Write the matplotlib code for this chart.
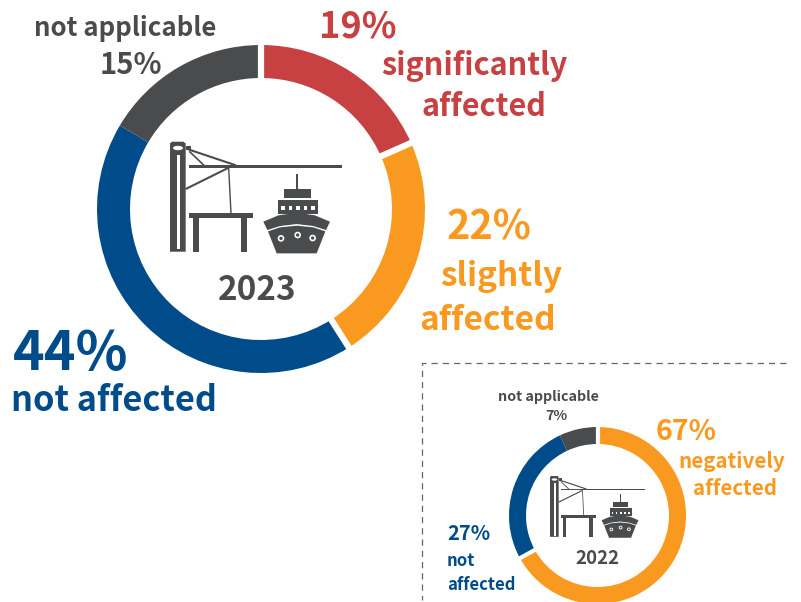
import numpy as np
import matplotlib
matplotlib.use("Agg")
import matplotlib.pyplot as plt
from matplotlib.patches import Polygon, Rectangle, Circle, Ellipse, Wedge

W, H = 801, 602
FONT = "Noto Sans CJK JP"
RED, ORANGE, BLUE, GREY = "#C74042", "#F9991F", "#004C8A", "#4A4B4D"

labels_2023 = ["significantly affected", "slightly affected", "not affected", "not applicable"]
values_2023 = [18.4, 22.6, 42.5, 16.5]
colors_2023 = [RED, ORANGE, BLUE, GREY]
gaps_2023 = [0, 1, 2]

labels_2022 = ["negatively affected", "not affected", "not applicable"]
values_2022 = [67, 26, 7]
colors_2022 = [ORANGE, BLUE, GREY]
gaps_2022 = [0, 1]

fig = plt.figure(figsize=(W / 100, H / 100), dpi=100, facecolor="white")
ov = fig.add_axes([0, 0, 1, 1], zorder=5)
ov.set_xlim(0, W)
ov.set_ylim(H, 0)
ov.axis("off")
ov.patch.set_alpha(0)


def donut(cx, cy, r, width, values, colors, gaps, gap_lw):
    ax = fig.add_axes([(cx - r) / W, 1 - (cy + r) / H, 2 * r / W, 2 * r / H], zorder=1)
    ax.pie(values, colors=colors, startangle=90, counterclock=False, radius=1,
           wedgeprops=dict(width=width / r, linewidth=0), frame=False)
    ax.set_xlim(-1, 1)
    ax.set_ylim(-1, 1)
    ax.set_aspect("equal")
    ax.axis("off")
    edges = np.cumsum([0] + list(values)) / sum(values)
    for i in gaps:
        a = np.pi / 2 - 2 * np.pi * edges[i]
        ax.plot([0.7 * np.cos(a), 1.02 * np.cos(a)], [0.7 * np.sin(a), 1.02 * np.sin(a)],
                color="white", lw=gap_lw, solid_capstyle="butt", clip_on=False)


def icon(x0, y0, s):
    """Crane and ship pictogram. Units: 3 per pixel at s=1; (60, 35) is the top left."""
    def P(pts):
        return [(x0 + s * (u - 60) / 3, y0 + s * (v - 35) / 3) for u, v in pts]

    def poly(pts, color=GREY):
        ov.add_patch(Polygon(P(pts), closed=True, fc=color, ec="none"))

    def line(pts, lw):
        q = P(pts)
        ov.plot([a for a, _ in q], [b for _, b in q], color=GREY, lw=lw * s, solid_capstyle="butt")

    def rect(u0, v0, u1, v1, color=GREY):
        poly([(u0, v0), (u1, v0), (u1, v1), (u0, v1)], color)

    def dot(u, v, ru, color="white"):
        c = P([(u, v)])[0]
        ov.add_patch(Circle(c, ru * s / 3, fc=color, ec="none"))

    # tower
    poly([(60, 40), (66, 35), (100, 35), (107, 40), (107, 365), (60, 365)])
    ov.add_patch(Ellipse(P([(84, 54)])[0], 30 * s / 3, 13 * s / 3, fc="white", ec="none"))
    rect(82, 75, 90, 358, "white")
    rect(107, 48, 124, 60)
    # boom and stays
    rect(118, 104, 576, 113)
    line([(115, 58), (258, 106)], 1.5)
    line([(118, 64), (162, 106)], 1.2)
    line([(107, 177), (236, 113)], 1.5)
    line([(236, 113), (243, 250)], 1.0)
    # quay table
    rect(118, 248, 310, 264)
    rect(128, 264, 147, 366)
    rect(273, 264, 291, 366)
    # ship
    rect(438, 132, 443, 177)
    rect(402, 177, 483, 203)
    rect(384, 209, 503, 252)
    for u in (399, 421, 444, 466, 489):
        rect(u - 5, 228, u + 5, 240, "white")
    poly([(340, 275), (385, 256), (440, 248), (495, 256), (540, 275), (528, 300),
          (490, 288), (440, 282), (390, 288), (352, 300)])
    poly([(354, 304), (390, 292), (440, 287), (490, 292), (526, 304), (500, 370), (380, 370)])
    for u, v in ((393, 325), (443, 315), (488, 324)):
        dot(u, v, 10)
        dot(u, v, 5, GREY)


def label(x, y, text, color, size, ha="center"):
    ov.text(x, y, text, color=color, fontsize=size, ha=ha, va="center",
            family=FONT, fontweight="bold")


donut(261, 209, 164, 33, values_2023, colors_2023, gaps_2023, 4.5)
donut(597.5, 515.5, 88.5, 17, values_2022, colors_2022, gaps_2022, 3)

icon(170, 141.7, 1.0)
icon(550, 476, 0.553)

label(125.5, 28.5, "not applicable", GREY, 18.6)
label(130.5, 65.5, "15%", GREY, 21)
label(357.5, 26.5, "19%", RED, 26)
label(474, 65.5, "significantly", RED, 22)
label(484, 106.5, "affected", RED, 22)
label(489, 228.5, "22%", ORANGE, 28.5)
label(501, 276.5, "slightly", ORANGE, 24)
label(487.5, 320.5, "affected", ORANGE, 24)
label(13, 354.5, "44%", BLUE, 38.8, ha="left")
label(114, 400.5, "not affected", BLUE, 24.7)
label(257, 290.5, "2023", GREY, 24)

label(548, 396.5, "not applicable", GREY, 10.3)
label(556, 416.5, "7%", GREY, 10.3)
label(686, 432.5, "67%", ORANGE, 20.5)
label(732, 461.5, "negatively", ORANGE, 14.8)
label(735, 488.5, "affected", ORANGE, 14.8)
label(447, 534, "27%", BLUE, 14.5, ha="left")
label(447, 561.5, "not", BLUE, 12, ha="left")
label(447, 584.5, "affected", BLUE, 12, ha="left")
label(597.5, 558.5, "2022", GREY, 13.5)

# dashed frame of the inset
ov.plot([786, 422, 422], [363, 363, 600], color="#666666", lw=0.9, dashes=(5, 4))

fig.savefig("out.png", dpi=100)
